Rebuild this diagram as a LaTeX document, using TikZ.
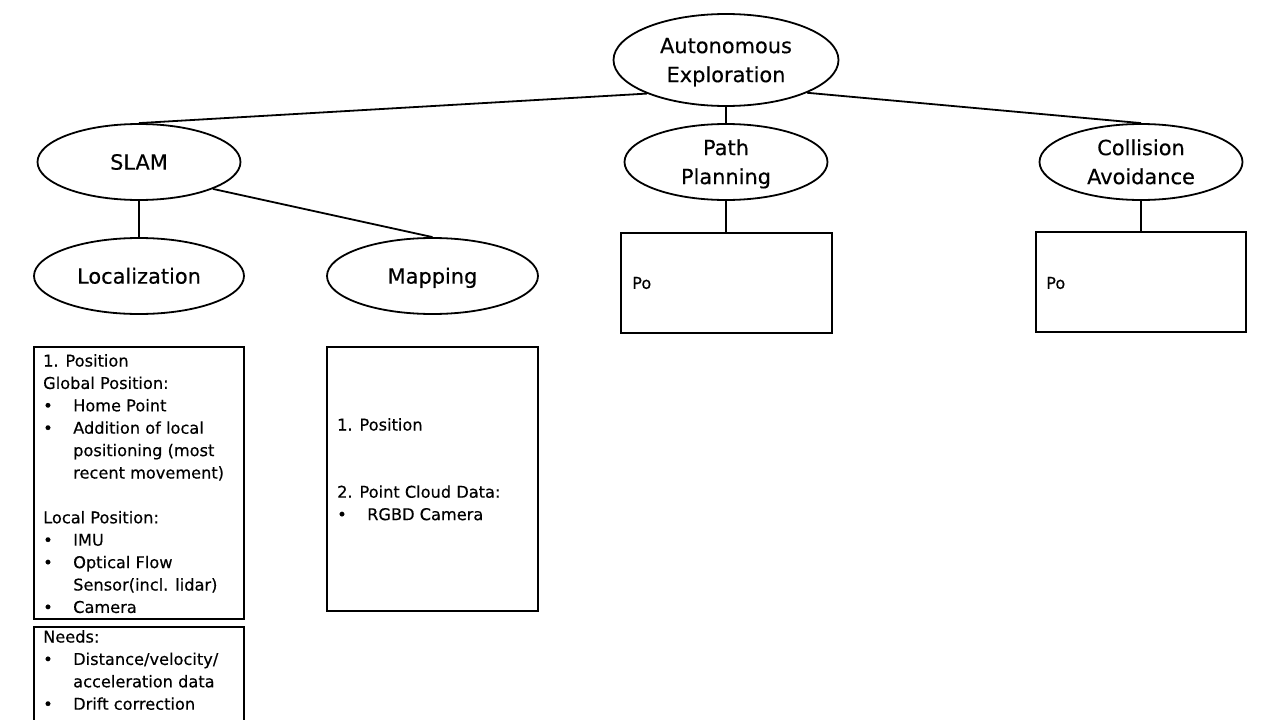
\documentclass[tikz,border=0pt]{standalone}
\usepackage{fontspec}
\setmainfont{DejaVu Sans}[FakeBold=0.4]
\usetikzlibrary{shapes.geometric}
\newcommand{\bl}[1]{\makebox[30pt][l]{\textbullet}#1}
\newcommand{\ct}[1]{\hspace*{30pt}#1}
\newcommand{\tl}[1]{\vrule width 0pt height 0.73em depth 0pt\smash{#1}}
\tikzset{
  conn/.style={line width=1.8pt},
  bubble/.style={ellipse, draw, line width=1.8pt, inner sep=0pt, minimum width=203pt, minimum height=76pt, font=\fontsize{20.9}{29}\selectfont, align=center},
  boxn/.style={draw, line width=1.8pt, rectangle, inner sep=0pt},
  boxtext/.style={anchor=north west, inner sep=0pt, font=\fontsize{16.2}{22.4}\selectfont, align=left}
}
\begin{document}
\begin{tikzpicture}[x=1pt,y=-1pt]
\useasboundingbox (0,0) rectangle (1280,720);
\clip (0,0) rectangle (1280,720);
% ellipses
\node[bubble, minimum width=225pt, minimum height=92pt] (root) at (726,60) {\tl{Autonomous}\\\tl{Exploration}};
\node[bubble] (slam) at (139,162) {\tl{SLAM}};
\node[bubble] (path) at (726,162) {\tl{Path}\\\tl{Planning}};
\node[bubble] (coll) at (1141,162) {\tl{Collision}\\\tl{Avoidance}};
\node[bubble, minimum width=210pt] (loc) at (139,276) {\tl{Localization}};
\node[bubble, minimum width=211pt] (map) at (432.5,276) {\tl{Mapping}};
% boxes
\node[boxn, minimum width=210pt, minimum height=272pt] (locbox) at (139,483) {};
\node[boxn, minimum width=210pt, minimum height=110pt] (needbox) at (139,682) {};
\node[boxn, minimum width=211pt, minimum height=264pt] (mapbox) at (432.5,479) {};
\node[boxn, minimum width=211pt, minimum height=100pt] (pathbox) at (726.5,283) {};
\node[boxn, minimum width=210pt, minimum height=100pt] (collbox) at (1141,282) {};
% box texts
\node[boxtext] (loctext) at (43,354) {1. Position\\Global Position:\\\bl{Home Point}\\\bl{Addition of local}\\\ct{positioning (most}\\\ct{recent movement)}\\\mbox{}\\Local Position:\\\bl{IMU}\\\bl{Optical Flow}\\\ct{Sensor(incl. lidar)}\\\bl{Camera}};
\node[boxtext] (needtext) at (43,630) {Needs:\\\bl{Distance/velocity/}\\\ct{acceleration data}\\\bl{Drift correction}};
\node[boxtext] (maptext) at (337,418) {1. Position\\\mbox{}\\\mbox{}\\2. Point Cloud Data:\\\bl{RGBD Camera}};
\node[boxtext, anchor=west] (pathtext) at (632,283) {Po};
\node[boxtext, anchor=west] (colltext) at (1046,283) {Po};
% connectors
\draw[conn] (root.-157.8) -- (slam.north);
\draw[conn] (root.south) -- (path.north);
\draw[conn] (root.-22.4) -- (coll.north);
\draw[conn] (slam.south) -- (slam.south |- loc.north);
\draw[conn] (slam.-20.4) -- (map.north);
\draw[conn] (path.south) -- (path.south |- pathbox.north);
\draw[conn] (coll.south) -- (coll.south |- collbox.north);
\end{tikzpicture}
\end{document}
